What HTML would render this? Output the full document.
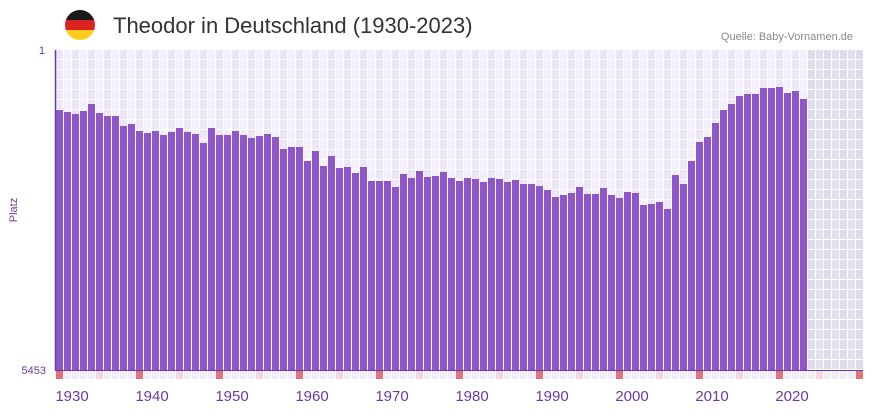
<!DOCTYPE html>
<html><head><meta charset="utf-8"><style>
body{margin:0;background:#fff;width:873px;height:412px;overflow:hidden;font-family:"Liberation Sans",sans-serif}
</style></head><body>
<svg id="s" width="873" height="412" xmlns="http://www.w3.org/2000/svg">
<defs><clipPath id="c"><circle cx="80" cy="25" r="15"/></clipPath></defs>
<g clip-path="url(#c)"><rect x="65" y="10" width="30" height="10" fill="#1a1a1a"/><rect x="65" y="20" width="30" height="10" fill="#dd2222"/><rect x="65" y="30" width="30" height="10" fill="#ffcc22"/></g>
<text x="113" y="33" font-size="22" fill="#333">Theodor in Deutschland (1930-2023)</text>
<text x="853" y="40" font-size="11" fill="#888" text-anchor="end">Quelle: Baby-Vornamen.de</text>
<g id="g"></g>
<line x1="55.5" y1="50" x2="55.5" y2="370" stroke="#6a3aa0" stroke-width="1.5"/>
<line x1="55" y1="370.5" x2="863" y2="370.5" stroke="#6a3aa0" stroke-width="1"/>
<text x="45" y="54" font-size="11" fill="#6a3aa0" text-anchor="end">1</text>
<text x="46" y="374" font-size="11" fill="#6a3aa0" text-anchor="end">5453</text>
<text transform="translate(17,210) rotate(-90)" font-size="11" fill="#6a3aa0" text-anchor="middle">Platz</text>
</svg>
<script>
var tops=[110,112,114,111,104,113,116,116,126,124,131,133,131,135,132,128,132,134,143,128,135,135,131,135,138,136,134,137,149,147,147,161,151,166,156,168,167,173,167,181,181,181,187,174,178,171,177,176,172,178,181,178,179,182,178,179,182,180,184,184,186,190,197,195,193,187,194,194,188,195,198,192,193,205,204,202,209,175,184,161,142,137,123,110,104,96,94,94,88,88,87,93,91,99];
var h='';
for(var i=0;i<101;i++){var x=56+i*8;var fut=i>=94;
 for(var r=0;r<32;r++){var y=50+r*10;var col=fut?(i%2?'#e4dfee':'#e0daea'):(i%2?'#f3f0fb':'#ece7f8');h+='<rect x="'+x+'" y="'+y+'" width="7" height="9" fill="'+col+'"/>';}
 if(i<94){h+='<rect x="'+x+'" y="'+tops[i]+'" width="7" height="'+(370-tops[i])+'" fill="#8e56c8"/>';}
 var yr=1930+i;var mc=yr%10==0?'#e57079':(yr%10==5?'#f5d6de':'#f0ecf8');
 h+='<rect x="'+x+'" y="371" width="7" height="8" fill="'+mc+'"/>';
 if(yr%10==0&&yr<2030)h+='<text x="'+(x+16)+'" y="401" font-size="15" fill="#6a3aa0" text-anchor="middle">'+yr+'</text>';
}
document.getElementById('g').innerHTML=h;
</script>
</body></html>
